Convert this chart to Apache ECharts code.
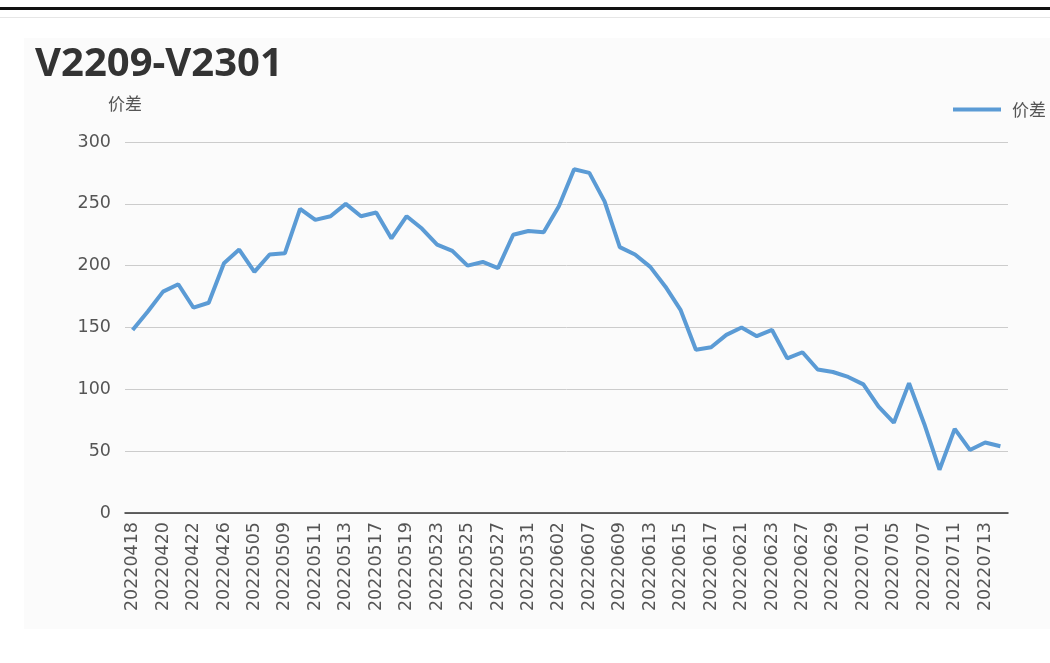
<!DOCTYPE html>
<html>
<head>
<meta charset="utf-8">
<script src="https://cdn.jsdelivr.net/npm/echarts@6/dist/echarts.min.js"></script>
<style>
  html, body { margin: 0; padding: 0; background: #fff; overflow: hidden; width: 1050px; height: 663px; }
  .topline { position: absolute; left: 0; top: 7px; width: 1050px; height: 3px; background: #111; }
  .subline { position: absolute; left: 0; top: 17px; width: 1050px; height: 1px; background: #e6e6e6; }
  .panel { position: absolute; left: 24px; top: 38px; width: 1026px; height: 591px; background: #fbfbfb; }
  #main { position: absolute; left: 0; top: 0; width: 1080px; height: 663px; }
</style>
</head>
<body>
<div class="topline"></div>
<div class="subline"></div>
<div class="panel"></div>
<div id="main"></div>
<script>
const dates = [
  '20220418', '20220419', '20220420', '20220421', '20220422', '20220425', '20220426', '20220427',
  '20220505', '20220506', '20220509', '20220510', '20220511', '20220512', '20220513', '20220516',
  '20220517', '20220518', '20220519', '20220520', '20220523', '20220524', '20220525', '20220526',
  '20220527', '20220530', '20220531', '20220601', '20220602', '20220606', '20220607', '20220608',
  '20220609', '20220610', '20220613', '20220614', '20220615', '20220616', '20220617', '20220620',
  '20220621', '20220622', '20220623', '20220624', '20220627', '20220628', '20220629', '20220630',
  '20220701', '20220704', '20220705', '20220706', '20220707', '20220708', '20220711', '20220712',
  '20220713', '20220714'
]

const spread = [
  148, 163, 179, 185, 166, 170, 202, 213,
  195, 209, 210, 246, 237, 240, 250, 240,
  243, 222, 240, 230, 217, 212, 200, 203,
  198, 225, 228, 227, 248, 278, 275, 252,
  215, 209, 199, 183, 164, 132, 134, 144,
  150, 143, 148, 125, 130, 116, 114, 110,
  104, 86, 73, 105, 72, 35, 68, 51,
  57, 54
]

const seriesName = '价差'

const myChart = echarts.init(document.getElementById('main'))
myChart.setOption({
  backgroundColor: 'transparent',
  title: {
    text: 'V2209-V2301',
    left: 30,
    top: 40,
    textStyle: {
      fontFamily: 'Noto Sans',
      fontWeight: 'bold',
      fontSize: 40,
      color: '#333',
    },
  },
  legend: {
    data: [seriesName],
    left: 948,
    top: 96,
    icon: 'rect',
    itemWidth: 48,
    itemHeight: 4,
    textStyle: {
      fontFamily: 'Noto Sans CJK SC',
      fontSize: 17,
      color: '#555',
      padding: [0, 0, 0, 6],
    },
  },
  grid: {
    left: 125,
    right: 72,
    top: 142,
    bottom: 150,
  },
  xAxis: {
    type: 'category',
    data: dates,
    boundaryGap: true,
    axisLine: { lineStyle: { color: '#333', width: 1.5 } },
    axisTick: {
      alignWithLabel: true,
      interval: (idx) => idx % 2 === 1,
      length: 4,
      lineStyle: { color: '#333', width: 1.5 },
    },
    axisLabel: {
      interval: 1,
      rotate: 90,
      margin: 9,
      fontFamily: 'DejaVu Sans',
      fontSize: 17.5,
      color: '#555',
    },
  },
  yAxis: {
    type: 'value',
    name: seriesName,
    nameGap: 30,
    nameTextStyle: {
      fontFamily: 'Noto Sans CJK SC',
      fontSize: 17,
      color: '#555',
    },
    min: 0,
    max: 300,
    interval: 50,
    axisLine: { show: false },
    axisTick: { show: false },
    axisLabel: {
      margin: 14,
      fontFamily: 'DejaVu Sans',
      fontSize: 17.5,
      color: '#555',
    },
    splitLine: { lineStyle: { color: '#ccc', width: 1 } },
  },
  series: [
    {
      name: seriesName,
      type: 'line',
      data: spread,
      showSymbol: false,
      itemStyle: { color: '#5b9bd5' },
      lineStyle: { color: '#5b9bd5', width: 4 },
    },
  ],
})
</script>
</body>
</html>
